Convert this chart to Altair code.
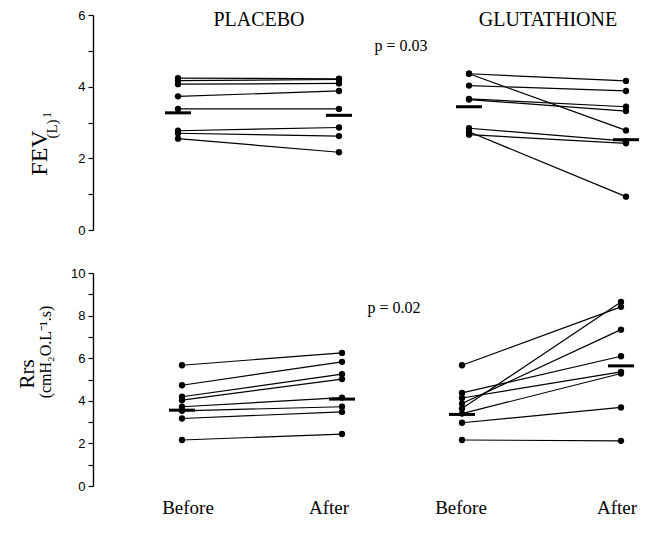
import altair as alt
import pandas as pd

# ---------------- data ----------------
slots = ["Placebo Before", "Placebo After", "Glutathione Before", "Glutathione After"]
group_titles = ["PLACEBO", "GLUTATHIONE"]
time_labels = ["Before", "After", "Before", "After"]

# FEV1 (L), paired per subject
fev_placebo_before = [4.24, 4.17, 4.07, 3.73, 3.38, 2.77, 2.70, 2.55]
fev_placebo_after = [4.22, 4.20, 4.09, 3.88, 3.38, 2.86, 2.62, 2.17]
fev_gluta_before = [4.36, 4.36, 4.03, 3.66, 3.64, 2.84, 2.74, 2.66]
fev_gluta_after = [4.16, 2.78, 3.88, 3.44, 3.32, 2.48, 0.93, 2.42]
fev_means = [3.27, 3.20, 3.44, 2.52]

# Rrs (cmH2O.L-1.s), paired per subject
rrs_placebo_before = [5.67, 4.73, 4.19, 4.03, 3.72, 3.53, 3.17, 2.16]
rrs_placebo_after = [6.25, 5.83, 5.25, 5.02, 4.15, 3.72, 3.48, 2.44]
rrs_gluta_before = [5.67, 4.37, 4.13, 3.87, 3.64, 3.40, 2.97, 2.16]
rrs_gluta_after = [8.41, 6.09, 5.36, 7.34, 8.64, 5.28, 3.69, 2.12]
rrs_means = [3.56, 4.08, 3.36, 5.64]

p_texts = ["p = 0.03", "p = 0.02"]
fev_title = ["FEV", "1", "(L)"]
rrs_title = ["Rrs", "(cmH\u2082O.L\u207b\u00b9.s)"]

SERIF = "Liberation Serif"
SANS = "Liberation Sans"


def long_df(pb, pa, gb, ga):
    rows = []
    for gname, before, after, sb, sa in [("P", pb, pa, 0, 1), ("G", gb, ga, 2, 3)]:
        for i, (b, a) in enumerate(zip(before, after)):
            rows.append({"subj": f"{gname}{i}", "slot": sb, "value": b})
            rows.append({"subj": f"{gname}{i}", "slot": sa, "value": a})
    return pd.DataFrame(rows)


def means_df(vals):
    return pd.DataFrame({"slot": list(range(len(slots))), "value": vals})


one = pd.DataFrame({"k": [0]})


def txt(text, x, y, size, angle=0, font=SERIF):
    kw = dict(text=text, font=font, fontSize=size, color="black", baseline="middle", align="center")
    if angle:
        kw["angle"] = angle
    return alt.Chart(one).mark_text(**kw).encode(x=alt.value(x), y=alt.value(y))


def panel(df, means, ymax, xrange, height, extra):
    xs = alt.X("slot:Q", scale=alt.Scale(domain=[0, 1, 2, 3], range=xrange), axis=None)
    ys = alt.Y(
        "value:Q",
        scale=alt.Scale(domain=[0, ymax], nice=False),
        axis=alt.Axis(
            values=list(range(ymax + 1)),
            labelExpr="datum.value % 2 == 0 ? datum.label : ''",
            tickSize=5,
            tickWidth=1.2,
            tickColor="black",
            domainColor="black",
            domainWidth=1.4,
            labelFont=SANS,
            labelFontSize=13,
            labelColor="black",
            labelPadding=3,
            grid=False,
            title=None,
        ),
    )
    base = alt.Chart(df)
    lines = base.mark_line(color="black", strokeWidth=1.2).encode(x=xs, y=ys, detail="subj:N")
    pts = base.mark_circle(color="black", size=40, opacity=1).encode(x=xs, y=ys)
    bars = alt.Chart(means).mark_tick(
        color="black", thickness=3, size=26, orient="horizontal", opacity=1
    ).encode(x=xs, y=ys)
    return alt.layer(lines, pts, bars, *extra).properties(width=540, height=height)


fev = long_df(fev_placebo_before, fev_placebo_after, fev_gluta_before, fev_gluta_after)
rrs = long_df(rrs_placebo_before, rrs_placebo_after, rrs_gluta_before, rrs_gluta_after)

top_extra = [
    txt(group_titles[0], 166, 5, 20),
    txt(group_titles[1], 455, 5, 20),
    txt(p_texts[0], 308, 31, 16),
    txt(fev_title[0], -53, 138, 24, angle=270),
    txt(fev_title[1], -46, 100, 13, angle=270),
    txt(fev_title[2], -41, 114, 15, angle=270),
]
bottom_extra = [
    txt(lbl, px, 235, 19) for lbl, px in zip(time_labels, [95, 236, 368, 524])
] + [
    txt(p_texts[1], 301, 35, 16),
    txt(rrs_title[0], -65, 101, 21, angle=270),
    txt(rrs_title[1], -47, 79, 16, angle=270),
]

top = panel(fev, means_df(fev_means), 6, [85, 246, 376, 533], 215, top_extra)
bottom = panel(rrs, means_df(rrs_means), 10, [89, 249, 369, 528], 213, bottom_extra)

chart = (
    alt.vconcat(top, bottom, spacing=43, bounds="flush")
    .properties(padding={"left": 9, "top": 1, "right": 0, "bottom": 0}, background="white")
    .configure_view(stroke=None)
)

chart.save("out.html", embed_options={"renderer": "svg", "actions": False})
